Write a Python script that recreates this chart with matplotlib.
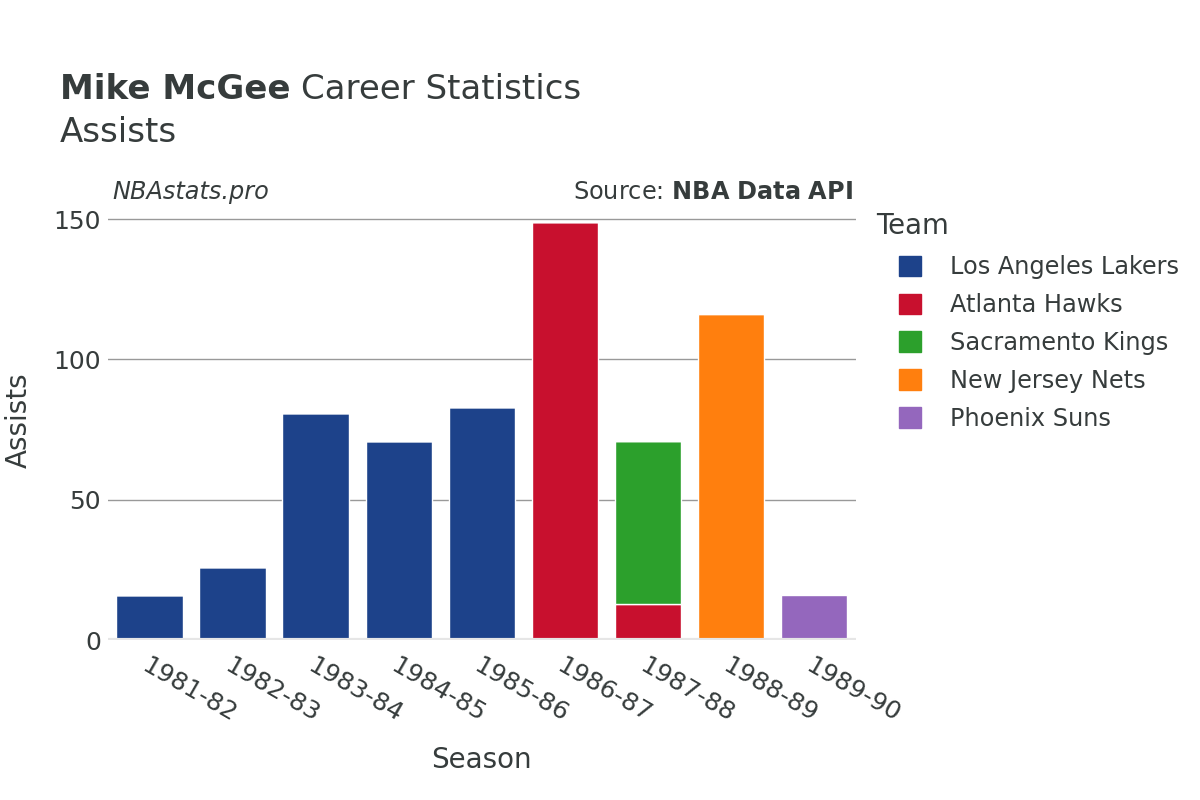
#Mike McGee career assists by season, stacked by team
import numpy as np
import matplotlib.pyplot as plt
from matplotlib.patches import Patch

# data
seasons = ['1981-82', '1982-83', '1983-84', '1984-85', '1985-86',
           '1986-87', '1987-88', '1988-89', '1989-90']
teams = ['Los Angeles Lakers', 'Atlanta Hawks', 'Sacramento Kings',
         'New Jersey Nets', 'Phoenix Suns']
lakers = [16, 26, 81, 71, 83, 0, 0, 0, 0]
hawks = [0, 0, 0, 0, 0, 149, 13, 0, 0]
kings = [0, 0, 0, 0, 0, 0, 58, 0, 0]
nets = [0, 0, 0, 0, 0, 0, 0, 116, 0]
suns = [0, 0, 0, 0, 0, 0, 0, 0, 16]
colors = ['#1d428a', '#c8102e', '#2ca02c', '#ff7f0e', '#9467bd']

text_col = '#363c3c'

fig = plt.figure(figsize=(12, 8), dpi=100)
ax = fig.add_axes([0.09, 0.2, 0.623, 0.55])

x = np.arange(len(seasons))
bottom = np.zeros(len(seasons))
for vals, col in zip([lakers, hawks, kings, nets, suns], colors):
    vals = np.array(vals, dtype=float)
    ax.bar(x, vals, width=0.8, bottom=bottom, color=col,
           edgecolor='white', linewidth=1, zorder=3)
    bottom += vals

ax.set_xlim(-0.5, len(seasons) - 0.5)
ax.set_ylim(0, 156.8)
ax.set_yticks([0, 50, 100, 150])
ax.grid(axis='y', color='#999999', linewidth=1, zorder=0)
ax.axhline(0, color='#e6e6e6', linewidth=3, zorder=4)
for s in ax.spines.values():
    s.set_visible(False)

ax.set_xticks(x)
ax.set_xticklabels(seasons, rotation=-30, ha='left', rotation_mode='anchor')
ax.tick_params(axis='both', length=0, labelsize=18, labelcolor=text_col)
ax.tick_params(axis='x', pad=10)
ax.tick_params(axis='y', pad=5)

ax.set_xlabel('Season', fontsize=20, color=text_col)
ax.set_ylabel('Assists', fontsize=20, color=text_col)
ax.xaxis.set_label_coords(0.5, -0.273)
ax.yaxis.set_label_coords(-0.12, 0.5)
ax.xaxis.label.set_va('center')
ax.yaxis.label.set_va('center')

# titles
t1 = fig.text(0.05, 0.888, 'Mike McGee', fontsize=24.5, fontweight='bold',
              color=text_col, va='center')
fig.canvas.draw()
bb = t1.get_window_extent()
fig.text(bb.x1 / 1200 + 0.009, 0.888, 'Career Statistics', fontsize=24.5,
         color=text_col, va='center')
fig.text(0.05, 0.834, 'Assists', fontsize=24.5, color=text_col, va='center')

fig.text(0.094, 0.76, 'NBAstats.pro', fontsize=17.3, style='italic',
         color=text_col, va='center')
fig.text(0.711, 0.76, 'Source: $\\bf{NBA\\ Data\\ API}$', fontsize=17.3,
         color=text_col, va='center', ha='right')

# legend
fig.text(0.73, 1 - 226 / 800, 'Team', fontsize=19.8, color=text_col, va='center')
handles = [Patch(facecolor=c, edgecolor=c) for c in colors]
leg = fig.legend(handles, teams, loc='upper left',
                 bbox_to_anchor=(0.749, 1 - 255 / 800),
                 frameon=False, fontsize=17.3, borderaxespad=0, borderpad=0,
                 handlelength=0.92, handleheight=0.92, labelspacing=0.58,
                 handletextpad=1.2)
for t in leg.get_texts():
    t.set_color(text_col)

fig.savefig('out.png', dpi=100, facecolor='white')
